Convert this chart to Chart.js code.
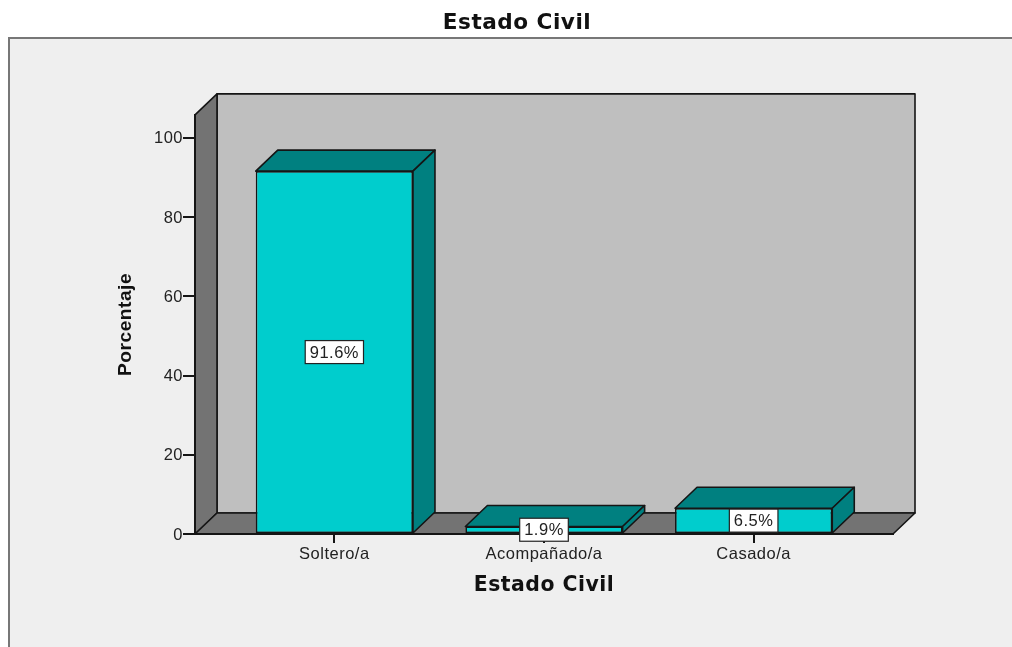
<!DOCTYPE html>
<html><head><meta charset="utf-8">
<style>
html,body{margin:0;padding:0;background:#fff;width:1012px;height:647px;overflow:hidden}
#panel{position:absolute;left:8px;top:37px;width:1004px;height:610px;background:#efefef;border-left:2px solid #777;border-top:2px solid #777;box-sizing:border-box}
canvas{position:absolute;left:0;top:0;filter:blur(0.35px)}
</style>
<script src="https://cdn.jsdelivr.net/npm/chart.js@4/dist/chart.umd.min.js"></script>
</head><body>
<div id="panel"></div>
<canvas id="c" width="1012" height="647"></canvas>
<script>
const categories = ['Soltero/a', 'Acompañado/a', 'Casado/a'];
const percentages = [91.6, 1.9, 6.5];
const yTicks = [0, 20, 40, 60, 80, 100];
const chartTitle = 'Estado Civil';
const xTitle = 'Estado Civil';
const yTitle = 'Porcentaje';

const DX = 22, DY = 21;
const EDGE = '#151515';
const labelFont = '16.5px "Liberation Sans", Arial, sans-serif';
const titleFont = {family: '"DejaVu Sans"', weight: 'bold', size: 21.6};
const xTitleFont = {family: '"DejaVu Sans"', weight: 'bold', size: 20.4};

function poly(ctx, pts, fill) {
  ctx.beginPath();
  pts.forEach((p, i) => i ? ctx.lineTo(p[0], p[1]) : ctx.moveTo(p[0], p[1]));
  ctx.closePath();
  ctx.fillStyle = fill;
  ctx.fill();
  ctx.lineWidth = 1.6;
  ctx.lineJoin = 'round';
  ctx.strokeStyle = EDGE;
  ctx.stroke();
}

const box3d = {
  id: 'box3d',
  afterLayout(chart) {
    chart.titleBlock.left = 22;
    chart.titleBlock.right = chart.width;
  },
  beforeDraw(chart) {
    const {ctx, chartArea: a} = chart;
    ctx.letterSpacing = '0.5px';
    ctx.save();
    poly(ctx, [[a.left + DX, a.top - DY], [a.right + DX, a.top - DY], [a.right + DX, a.bottom - DY], [a.left + DX, a.bottom - DY]], '#bfbfbf');
    poly(ctx, [[a.left, a.bottom], [a.left, a.top], [a.left + DX, a.top - DY], [a.left + DX, a.bottom - DY]], '#737373');
    poly(ctx, [[a.left, a.bottom], [a.left + DX, a.bottom - DY], [a.right + DX, a.bottom - DY], [a.right, a.bottom]], '#737373');
    ctx.restore();
  },
  afterDatasetsDraw(chart) {
    const ctx = chart.ctx;
    ctx.save();
    chart.getDatasetMeta(0).data.forEach(bar => {
      const l = bar.x - bar.width / 2, r = bar.x + bar.width / 2, t = bar.y, b = bar.base;
      poly(ctx, [[l, t], [l + DX, t - DY], [r + DX, t - DY], [r, t]], '#008080');
      poly(ctx, [[r, t], [r + DX, t - DY], [r + DX, b - DY], [r, b]], '#008080');
    });
    ctx.restore();
  },
  afterDraw(chart) {
    const ctx = chart.ctx;
    ctx.save();
    ctx.font = labelFont;
    ctx.textAlign = 'center';
    ctx.textBaseline = 'middle';
    chart.getDatasetMeta(0).data.forEach((bar, i) => {
      const text = percentages[i].toFixed(1) + '%';
      const w = ctx.measureText(text).width + 9, h = 23;
      const cy = (bar.y + bar.base) / 2;
      ctx.fillStyle = '#fff';
      ctx.fillRect(bar.x - w / 2, cy - h / 2, w, h);
      ctx.strokeStyle = '#222';
      ctx.lineWidth = 1.2;
      ctx.strokeRect(bar.x - w / 2, cy - h / 2, w, h);
      ctx.fillStyle = '#222';
      ctx.fillText(text, bar.x, cy + 1);
    });
    ctx.restore();
  }
};

new Chart(document.getElementById('c'), {
  type: 'bar',
  plugins: [box3d],
  data: {
    labels: categories,
    datasets: [{
      data: percentages.map((v, i) => ({x: i, y: v})),
      backgroundColor: '#00cdcd',
      borderColor: EDGE,
      borderWidth: 1.6,
      borderSkipped: false,
      barPercentage: 0.75,
      categoryPercentage: 1
    }]
  },
  options: {
    responsive: false,
    animation: false,
    devicePixelRatio: 1,
    layout: {padding: {left: 22, right: 119, top: 0, bottom: 0}},
    plugins: {
      legend: {display: false},
      tooltip: {enabled: false},
      title: {
        display: true,
        text: chartTitle,
        color: '#111',
        font: titleFont,
        padding: {top: 10, bottom: 79}
      }
    },
    scales: {
      x: {
        type: 'linear',
        offset: false,
        min: -0.6647,
        max: 2.6647,
        afterBuildTicks(s) { s.ticks = categories.map((_, i) => ({value: i})); },
        afterFit(s) { s.height = 113; },
        grid: {offset: false, drawOnChartArea: false, drawTicks: true, tickLength: 9, color: EDGE, lineWidth: 2},
        border: {display: true, color: EDGE, width: 2},
        ticks: {
          callback: v => categories[v],
          autoSkip: false,
          maxRotation: 0,
          padding: 2,
          color: '#222',
          font: {family: '"Liberation Sans"', size: 16.5}
        },
        title: {display: true, text: xTitle, color: '#111', font: xTitleFont, padding: {top: 10, bottom: 49}}
      },
      y: {
        min: 0,
        max: 105.8,
        afterBuildTicks(s) { s.ticks = yTicks.map(v => ({value: v})); },
        afterFit(s) { s.width = 173; },
        grid: {drawOnChartArea: false, drawTicks: true, tickLength: 12, color: EDGE, lineWidth: 2},
        border: {display: true, color: EDGE, width: 2},
        ticks: {padding: 0, labelOffset: 1, color: '#222', font: {family: '"Liberation Sans"', size: 16.5}},
        title: {
          display: true,
          text: yTitle,
          color: '#111',
          font: {family: '"Liberation Sans"', weight: 'bold', size: 19.2},
          padding: {top: 92, bottom: 0}
        }
      }
    }
  }
});
</script>
</body></html>
